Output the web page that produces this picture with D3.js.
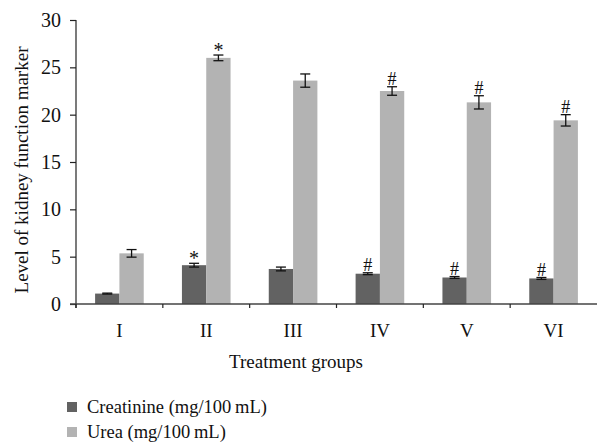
<!DOCTYPE html>
<html><head><meta charset="utf-8">
<script src="https://cdn.jsdelivr.net/npm/d3@7"></script>
<style>body{margin:0;background:#fff}svg{display:block}text{font-family:"Liberation Serif","DejaVu Serif",serif;fill:#111}</style>
</head><body><svg id="c" width="597" height="443"></svg>
<script>
const groups = ["I","II","III","IV","V","VI"];
const creatinine = [1.1, 4.1, 3.7, 3.2, 2.8, 2.7];
const creatinineErr = [0.05, 0.2, 0.2, 0.1, 0.1, 0.1];
const urea = [5.35, 26.0, 23.6, 22.5, 21.3, 19.4];
const ureaErr = [0.4, 0.3, 0.7, 0.45, 0.7, 0.6];
const creatinineMarks = ["", "*", "", "#", "#", "#"];
const ureaMarks = ["", "*", "", "#", "#", "#"];
const yTicks = [0,5,10,15,20,25,30];
const seriesNames = ["Creatinine (mg/100\u2009mL)", "Urea (mg/100\u2009mL)"];
const colors = ["#626262", "#b3b3b3"];

const svg = d3.select("#c");
const m = {l:76};
const W = 597;
const x = d3.scaleBand().domain(groups).range([m.l, W]).paddingInner(0.44).paddingOuter(0.22);
const y = d3.scaleLinear().domain([0,30]).range([304, 20]);
const sub = d3.scaleBand().domain([0,1]).range([0, x.bandwidth()]);

const series = [
  {vals: creatinine, err: creatinineErr, marks: creatinineMarks},
  {vals: urea, err: ureaErr, marks: ureaMarks}
];

series.forEach((s, si) => {
  const g = svg.append("g");
  g.selectAll("rect").data(groups).join("rect")
    .attr("x", d => x(d) + sub(si))
    .attr("y", (d,i) => y(s.vals[i]))
    .attr("width", sub.bandwidth())
    .attr("height", (d,i) => y(0) - y(s.vals[i]))
    .attr("fill", colors[si]);
  groups.forEach((d,i) => {
    const cx = x(d) + sub(si) + sub.bandwidth()/2;
    const y1 = y(s.vals[i] + s.err[i]), y2 = y(s.vals[i] - s.err[i]);
    const ew = 5;
    [[cx,cx,y1,y2],[cx-ew,cx+ew,y1,y1],[cx-ew,cx+ew,y2,y2]].forEach(([a,b,c,e]) =>
      g.append("line").attr("x1",a).attr("x2",b).attr("y1",c).attr("y2",e).attr("stroke","#111").attr("stroke-width",1.3));
    if (s.marks[i]) {
      const star = s.marks[i]==="*";
      g.append("text").attr("x", cx).attr("y", star ? y1 + 2 : y1 - 1.5)
        .attr("text-anchor","middle").attr("font-size", star ? 20 : 18)
        .text(s.marks[i]);
    }
  });
});

// y axis
const ya = svg.append("g").attr("transform", `translate(${m.l},0)`)
  .call(d3.axisLeft(y).tickValues(yTicks).tickSize(6).tickPadding(9));
ya.select(".domain").attr("stroke","#222").attr("stroke-width",1.2).attr("d", `M0,${y(30)}V${y(0)+4}`);
ya.selectAll(".tick line").attr("stroke","#222").attr("stroke-width",1.2);
ya.selectAll(".tick text").attr("font-size",20).attr("fill","#111").style("font-family","Liberation Serif, serif");

// x axis
const xa = svg.append("g").attr("transform", `translate(0,${y(0)})`);
xa.append("line").attr("x1", m.l-6).attr("x2", W).attr("y1",0).attr("y2",0).attr("stroke","#444").attr("stroke-width",1.6);
const boundaries = groups.map((d,i) => m.l + i*(W - m.l)/groups.length);
xa.selectAll(".bt").data(boundaries).join("line")
  .attr("x1", d=>d).attr("x2", d=>d).attr("y1",0).attr("y2",4).attr("stroke","#222").attr("stroke-width",1.2);
xa.selectAll(".xl").data(groups).join("text")
  .attr("x", d => x(d) + x.bandwidth()/2).attr("y", 33)
  .attr("text-anchor","middle").attr("font-size",19).text(d=>d);

svg.append("text").attr("x", 296).attr("y", 368).attr("text-anchor","middle").attr("font-size",19).text("Treatment groups");
svg.append("text").attr("transform", `translate(28,170) rotate(-90)`).attr("text-anchor","middle").attr("font-size",19).text("Level of kidney function marker");

const lg = svg.append("g");
seriesNames.forEach((n, i) => {
  const yy = 407 + i*25;
  lg.append("rect").attr("x", 67).attr("y", yy-5).attr("width",10).attr("height",10).attr("fill", colors[i]);
  lg.append("text").attr("x", 87).attr("y", yy+6).attr("font-size",18.5).text(n);
});
</script></body></html>
